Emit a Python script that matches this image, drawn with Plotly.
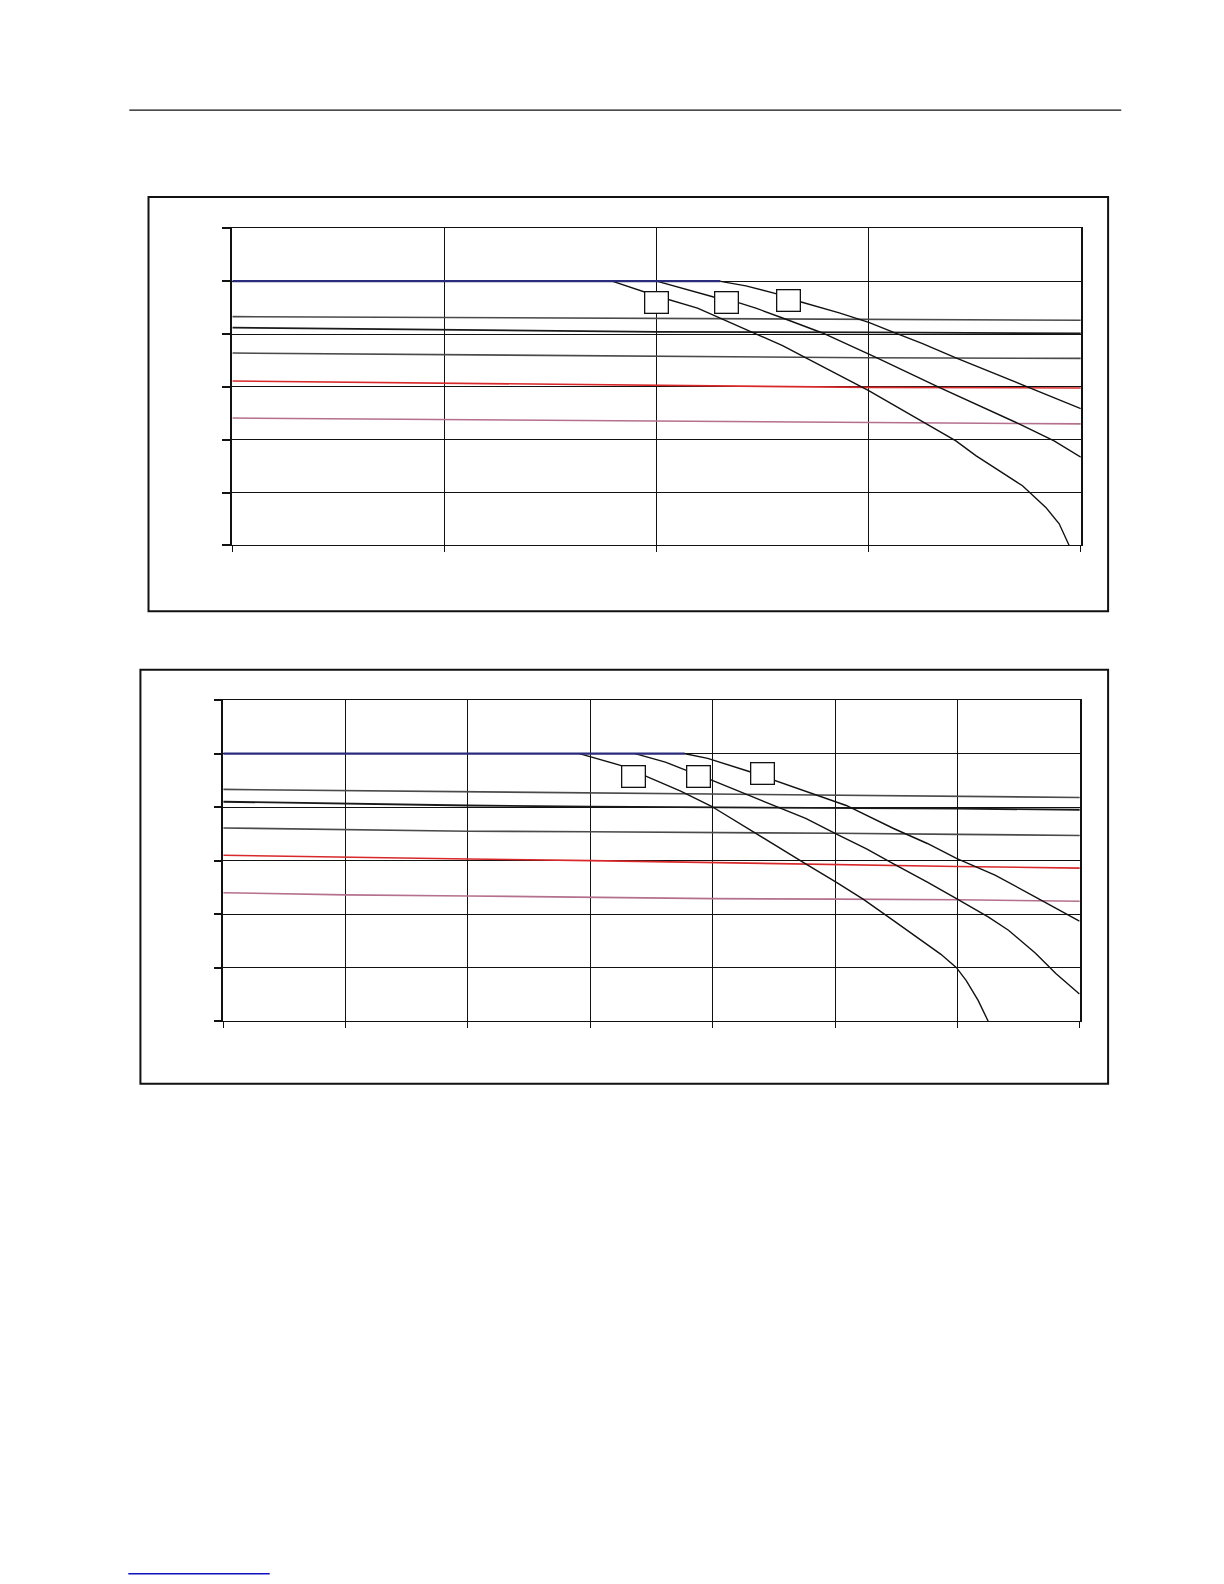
import plotly.graph_objects as go

# ---------------- Chart 1 data (grid units: x 0..4, y 0..6) ----------------
c1_flat_x = [0, 1, 2, 3, 4]
c1_s1 = [4.33, 4.31, 4.30, 4.27, 4.26]
c1_s2 = [4.12, 4.08, 4.04, 4.03, 4.01]
c1_s3 = [3.64, 3.61, 3.58, 3.55, 3.54]
c1_red = [3.11, 3.07, 3.03, 2.99, 2.98]
c1_pink = [2.41, 2.38, 2.35, 2.32, 2.30]
c1_blue_x = [0, 2.30]
c1_blue_y = [5.0, 5.0]

c1_a_x = [1.79, 2.0, 2.193, 2.452, 2.594, 2.704, 3.0, 3.411, 3.505, 3.725, 3.835, 3.898, 3.945]
c1_a_y = [5.0, 4.72, 4.49, 4.04, 3.78, 3.55, 2.93, 1.98, 1.70, 1.13, 0.72, 0.41, 0.0]
c1_b_x = [2.0, 2.269, 2.382, 2.468, 2.610, 2.782, 3.034, 3.332, 3.709, 3.874, 4.0]
c1_b_y = [5.0, 4.70, 4.60, 4.49, 4.28, 4.02, 3.56, 2.99, 2.30, 1.98, 1.67]
c1_c_x = [2.295, 2.421, 2.558, 2.669, 2.861, 3.0, 3.112, 3.254, 3.411, 3.584, 3.756, 4.0]
c1_c_y = [5.0, 4.91, 4.77, 4.62, 4.40, 4.22, 4.04, 3.82, 3.55, 3.27, 2.98, 2.59]

c1_label_x = [2.0, 2.33, 2.62]
c1_label_y = [4.60, 4.60, 4.63]

# ---------------- Chart 2 data (grid units: x 0..7, y 0..6) ----------------
c2_flat_x = [0, 1, 2, 3, 4, 5, 6, 7]
c2_s1 = [4.33, 4.31, 4.28, 4.27, 4.25, 4.23, 4.20, 4.18]
c2_s2 = [4.10, 4.06, 4.03, 4.01, 4.00, 3.99, 3.97, 3.95]
c2_s3 = [3.61, 3.58, 3.55, 3.54, 3.53, 3.51, 3.49, 3.47]
c2_red = [3.10, 3.06, 3.03, 3.00, 2.96, 2.93, 2.89, 2.86]
c2_pink = [2.40, 2.36, 2.34, 2.31, 2.29, 2.28, 2.27, 2.24]
c2_blue_x = [0, 3.77]
c2_blue_y = [5.0, 5.0]

c2_a_x = [2.91, 3.246, 3.453, 3.738, 3.986, 4.262, 4.483, 4.760, 5.008, 5.229, 5.478, 5.671, 5.865, 5.992, 6.072, 6.169, 6.251]
c2_a_y = [5.0, 4.78, 4.58, 4.30, 4.02, 3.63, 3.32, 2.94, 2.60, 2.28, 1.88, 1.56, 1.25, 1.0, 0.76, 0.39, 0.0]
c2_b_x = [3.365, 3.613, 3.779, 3.986, 4.262, 4.539, 4.760, 5.008, 5.257, 5.478, 5.754, 5.992, 6.251, 6.417, 6.638, 6.804, 6.997]
c2_b_y = [5.0, 4.84, 4.69, 4.51, 4.25, 3.99, 3.79, 3.50, 3.22, 2.94, 2.60, 2.29, 1.95, 1.70, 1.27, 0.89, 0.51]
c2_c_x = [3.765, 3.959, 4.304, 4.503, 4.815, 5.091, 5.478, 5.754, 5.992, 6.307, 6.638, 6.997]
c2_c_y = [5.0, 4.91, 4.66, 4.50, 4.25, 4.03, 3.60, 3.32, 3.04, 2.73, 2.32, 1.87]

c2_label_x = [3.35, 3.88, 4.41]
c2_label_y = [4.58, 4.58, 4.62]

# ---------------- styling ----------------
COL_S1 = "#4a4a4a"
COL_S2 = "#1a1a1a"
COL_S3 = "#4a4a4a"
COL_RED = "#d8282a"
COL_PINK = "#b4708c"
COL_BLUE = "#2b2b7c"
COL_CURVE = "#111111"

W, H = 1224, 1584
# observed page placement: the figure appears offset by the body margin and slightly scaled
PAGE_OFF = 7.9
PAGE_SCALE = 0.99

fig = go.Figure()


def add_chart(xa, ya, flat_x, s1, s2, s3, red, pink, bx, by, curves):
    for ys, col, w in [(s1, COL_S1, 1.6), (s2, COL_S2, 1.8), (s3, COL_S3, 1.6),
                       (red, COL_RED, 1.6), (pink, COL_PINK, 1.6)]:
        fig.add_trace(go.Scatter(x=flat_x, y=ys, mode="lines", xaxis=xa, yaxis=ya,
                                 line=dict(color=col, width=w), hoverinfo="skip"))
    for cx, cy in curves:
        fig.add_trace(go.Scatter(x=cx, y=cy, mode="lines", xaxis=xa, yaxis=ya,
                                 line=dict(color=COL_CURVE, width=1.4), hoverinfo="skip"))
    fig.add_trace(go.Scatter(x=bx, y=by, mode="lines", xaxis=xa, yaxis=ya,
                             line=dict(color=COL_BLUE, width=2.2), hoverinfo="skip"))


add_chart("x", "y", c1_flat_x, c1_s1, c1_s2, c1_s3, c1_red, c1_pink, c1_blue_x, c1_blue_y,
          [(c1_a_x, c1_a_y), (c1_b_x, c1_b_y), (c1_c_x, c1_c_y)])
add_chart("x2", "y2", c2_flat_x, c2_s1, c2_s2, c2_s3, c2_red, c2_pink, c2_blue_x, c2_blue_y,
          [(c2_a_x, c2_a_y), (c2_b_x, c2_b_y), (c2_c_x, c2_c_y)])


def px_x(p):
    return ((p - PAGE_OFF) / PAGE_SCALE) / W


def px_y(p):
    return 1 - ((p - PAGE_OFF) / PAGE_SCALE) / H


def axis_x(domain, rng):
    return dict(domain=domain, range=rng, dtick=1, tick0=0, showgrid=True, gridcolor="#111111",
                gridwidth=1, showline=True, linecolor="#111111", linewidth=1, mirror=True,
                ticks="outside", ticklen=6, tickcolor="#111111", tickwidth=1,
                showticklabels=False, zeroline=False, fixedrange=True)


def axis_y(domain, rng, anchor, lw):
    return dict(domain=domain, range=rng, dtick=1, tick0=0, showgrid=True, gridcolor="#111111",
                gridwidth=1, showline=True, linecolor="#111111", linewidth=lw, mirror=True,
                ticks="outside", ticklen=8, tickcolor="#111111", tickwidth=2,
                showticklabels=False, zeroline=False, anchor=anchor, fixedrange=True)


layout = dict(
    width=W, height=H, margin=dict(l=0, r=0, t=0, b=0),
    paper_bgcolor="white", plot_bgcolor="white", showlegend=False,
    xaxis=dict(axis_x([px_x(230), px_x(1070)], [0, 4]), anchor="y"),
    yaxis=axis_y([px_y(540), px_y(226)], [0, 6], "x", 2),
    xaxis2=dict(axis_x([px_x(221), px_x(1069)], [0, 7]), anchor="y2"),
    yaxis2=axis_y([px_y(1011), px_y(693)], [0, 6], "x2", 1.5),
)
fig.update_layout(**layout)

# label boxes (text removed in the reference)
annos = []
for xs, ys, xr, yr in [(c1_label_x, c1_label_y, "x", "y"), (c2_label_x, c2_label_y, "x2", "y2")]:
    for lx, ly in zip(xs, ys):
        annos.append(dict(x=lx, y=ly, xref=xr, yref=yr, text=" ", showarrow=False,
                          width=22, height=20, bgcolor="white", bordercolor="#111111",
                          borderwidth=1.3, borderpad=0))
fig.update_layout(annotations=annos)

# page decorations: outer chart frames, header rule, footer link rule
shapes = [
    dict(type="rect", xref="paper", yref="paper", x0=px_x(147), x1=px_x(1097),
         y0=px_y(605), y1=px_y(195), line=dict(color="#111111", width=2)),
    dict(type="rect", xref="paper", yref="paper", x0=px_x(139), x1=px_x(1097),
         y0=px_y(1073), y1=px_y(663), line=dict(color="#111111", width=2)),
    dict(type="line", xref="paper", yref="paper", x0=px_x(128), x1=px_x(1110),
         y0=px_y(109), y1=px_y(109), line=dict(color="#111111", width=1.4)),
    dict(type="line", xref="paper", yref="paper", x0=px_x(127), x1=px_x(267),
         y0=px_y(1558), y1=px_y(1558), line=dict(color="#1010c0", width=1.4)),
]
fig.update_layout(shapes=shapes)

fig.write_html("out.html")
